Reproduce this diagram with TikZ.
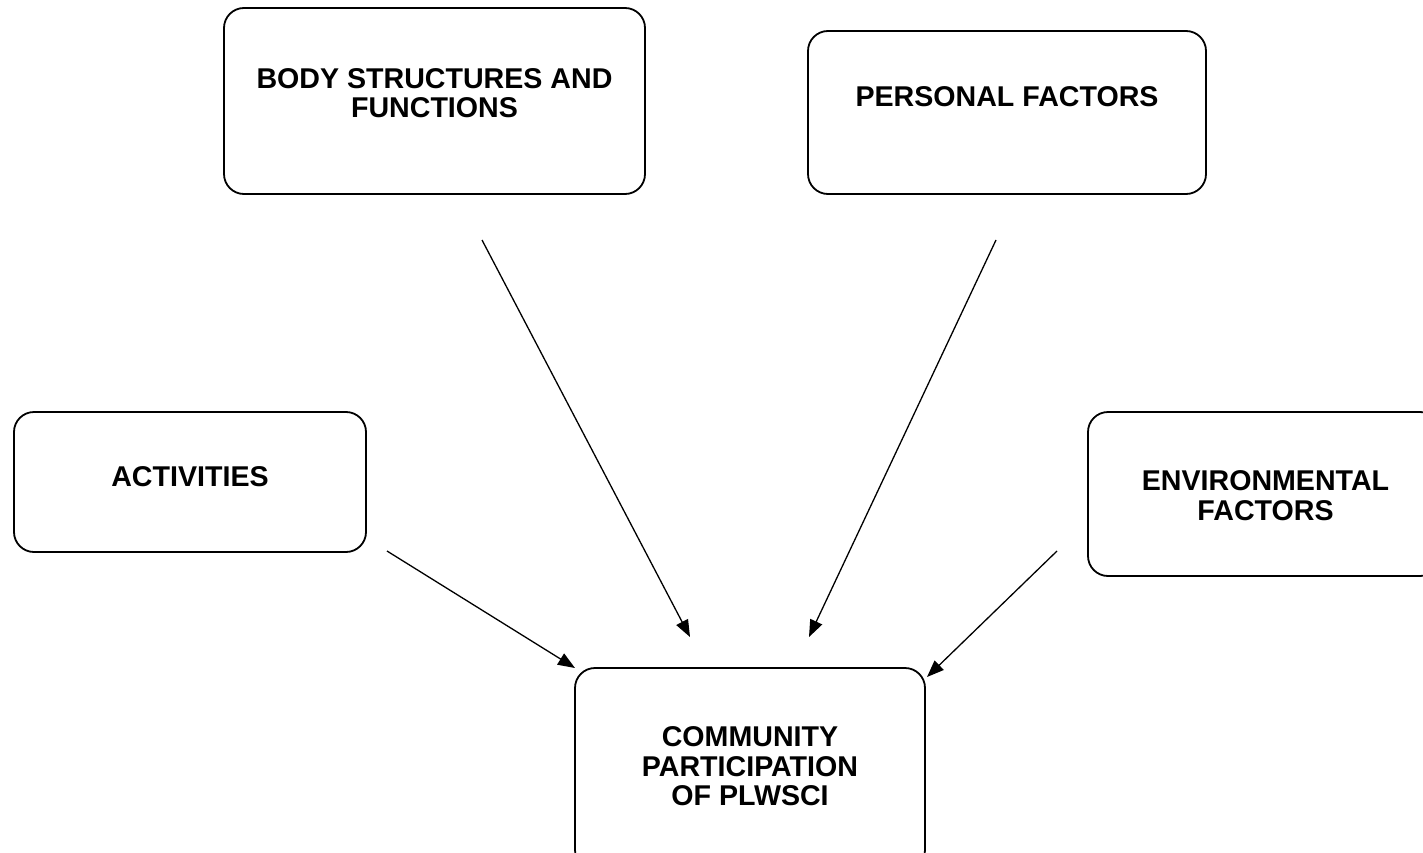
\documentclass[tikz,border=0pt]{standalone}
\usepackage{fontspec}
\setmainfont{Liberation Sans}
\usetikzlibrary{arrows.meta}
\begin{document}
\begin{tikzpicture}[x=1pt,y=-1pt,
  boxshape/.style={draw=black,line width=1.8pt,rounded corners=20pt},
  lbl/.style={font=\fontsize{28.6}{29.5}\selectfont\bfseries,align=center,inner sep=0pt},
  arr/.style={line width=1.3pt,-{Triangle[length=17pt,width=13pt]}}]
\clip (0,0) rectangle (1423,853);
\fill[white] (0,0) rectangle (1423,853);
% boxes
\draw[boxshape] (224,8) rectangle (645,194);
\node[lbl] (body) at (434.5,93) {BODY STRUCTURES AND\\FUNCTIONS};
\draw[boxshape] (808,31) rectangle (1206,194);
\node[lbl] (pers) at (1007,97) {PERSONAL FACTORS};
\draw[boxshape] (14,412) rectangle (366,552);
\node[lbl] (act) at (190,477) {ACTIVITIES};
\draw[boxshape] (1088,412) rectangle (1440,576);
\node[lbl] (env) at (1265.5,495.5) {ENVIRONMENTAL\\FACTORS};
\draw[boxshape] (575,668) rectangle (925,870);
\node[lbl] (comm) at (750,766.5) {COMMUNITY\\PARTICIPATION\\OF PLWSCI};
% arrow end points
\coordinate (b1) at (482,240); \coordinate (b2) at (690,637);
\coordinate (p1) at (996,240); \coordinate (p2) at (809,637);
\coordinate (a1) at (387,551); \coordinate (a2) at (575,668);
\coordinate (e1) at (1057,551); \coordinate (e2) at (927,677);
\draw[arr] (b1) -- (b2);
\draw[arr] (p1) -- (p2);
\draw[arr] (a1) -- (a2);
\draw[arr] (e1) -- (e2);
\end{tikzpicture}
\end{document}
